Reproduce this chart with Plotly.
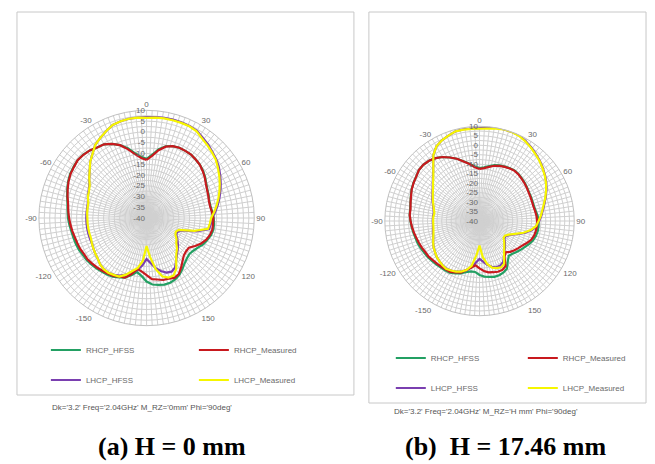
import plotly.graph_objects as go

# The page body has an 8 px margin, so the figure is drawn 8 px in from the window corner.
OFF = 8
W, H = 655 - OFF, 464 - OFF

# angles (deg, clockwise from top), 0..355 step 5
THETA = list(range(0, 360, 5))

# ---------- (a) H = 0 mm ----------
A_RHCP_HFSS = [-12.5, -10.5, -7.5, -5.5, -4.5, -4, -4, -4, -4.5, -5, -5.8, -6.8, -8, -8.8, -9.3, -9.8,
               -9.8, -9.3, -8.8, -8.5, -8.5, -9, -10, -11, -12.5, -13.5, -14, -13.5, -12.5, -11, -9.5, -8.5,
               -8, -8, -8.5, -9, -10.5, -13, -14.5, -12.5, -10.5, -9.5, -8.5, -8, -7.5, -7, -6.5, -6,
               -5.8, -5.3, -5, -4.8, -4.5, -4, -3.5, -3.2, -2.7, -1.8, -0.8, 0.2, 1, 1.4, 1.8, 1.6,
               1, 0, -0.5, -2, -4, -6.5, -9.5, -11.5]
A_RHCP_MEAS = [-13, -11, -8, -5.7, -4.5, -4, -4, -4, -4.5, -5, -6, -7, -8.2, -9, -9.5, -10,
               -10, -9.5, -9, -9, -9, -9.5, -10.5, -12, -14, -16, -16, -15.5, -14, -12, -10, -9.3,
               -10, -10.2, -11, -11.5, -13.5, -15, -16, -13, -10.5, -10, -9, -8.5, -8, -7.5, -7, -6.5,
               -6.5, -6, -5.8, -5.5, -5, -4.5, -4, -3.5, -3, -2, -1, 0, 0.8, 1.2, 1.8, 1.5,
               1, 0, -0.5, -2, -4, -7, -10, -12]
A_LHCP_HFSS = [6.8, 7, 7.2, 7.3, 7.3, 7.2, 6.8, 5.5, 4.5, 3.3, 2.3, 1, -0.5, -2, -3.5, -5,
               -6.5, -8, -9.5, -10, -10.5, -16, -23, -24.5, -24, -22.5, -21, -19.5, -18, -16, -13.5, -12.5,
               -13, -14.5, -16.5, -19, -21, -18, -15.5, -14, -12, -10.5, -9.5, -9, -9, -9.5, -10.5, -11,
               -11.5, -12, -12, -12, -12, -12, -12, -12, -12, -11.8, -11, -10.3, -9.3, -7.5, -5.5, -3,
               -1, 1.5, 3, 4.5, 6, 6.5, 6.8, 6.8]
A_LHCP_MEAS = [6.5, 6.8, 7, 7, 7, 7, 6.5, 5, 4, 3, 2, 0.5, -1, -2.5, -4, -5.5,
               -7, -8.5, -10, -10.5, -11, -17, -24, -25, -24.5, -23, -22, -20, -18.5, -16, -12.5, -10.5,
               -10.5, -12, -16, -22, -27, -20, -16.5, -14.5, -12, -10, -9.5, -9, -9, -9.5, -10.5, -11,
               -11.5, -12, -12.5, -12.5, -12.5, -12.5, -12.5, -12.3, -12.2, -12, -11, -10.5, -9.5, -7.5, -5.5, -3,
               -1, 1.5, 3, 4.5, 6, 6.5, 6.8, 6.8]

# ---------- (b) H = 17.46 mm ----------
B_RHCP_HFSS = [-12, -11.5, -10.5, -9.5, -8.8, -8.3, -7.8, -7.5, -7.8, -8.3, -8.8, -9.3, -9.8, -10, -10.2, -10.2,
               -9.8, -9.2, -8.8, -8.7, -8.8, -9.2, -10, -11.2, -12.5, -13.5, -14.5, -15.5, -16, -14, -11, -10,
               -9.5, -9.5, -10, -10.5, -11.5, -13, -13, -12, -10.5, -9.5, -8.5, -8.2, -8, -7.6, -7.2, -6.7,
               -6.3, -5.8, -5.3, -5, -4.5, -4, -3.5, -3, -2.8, -2.2, -1.4, -0.4, 0.3, 0.9, 1.8, 2,
               1.5, 0.5, -1, -3, -5, -7.3, -9.3, -11]
B_RHCP_MEAS = [-12.5, -12, -11, -9.8, -9, -8.5, -8, -7.7, -8, -8.5, -9, -9.5, -10, -10.3, -10.5, -10.5,
               -10.2, -9.8, -9.6, -9.6, -9.8, -10.2, -11, -12.5, -14, -15, -16, -17, -18.5, -17, -12.5, -11.5,
               -11.5, -12, -12.5, -13.5, -15, -16.5, -15, -13.2, -11, -10, -9, -8.8, -8.5, -8.2, -7.8, -7.2,
               -7, -6.5, -6, -5.5, -4.8, -4.2, -3.6, -3, -3, -2.3, -1.5, -0.5, 0.2, 0.8, 1.8, 2,
               1.5, 0.5, -1, -3, -5, -7.5, -9.5, -11.5]
B_LHCP_HFSS = [9, 9.5, 10, 10, 10, 9.8, 8.7, 7.5, 6.2, 5, 3.6, 2.2, 0.7, -1, -2.8, -4.5,
               -6, -7.2, -8.5, -9.7, -12, -15.5, -19.5, -22.5, -24, -24, -22.5, -21, -19.5, -17.5, -15, -14,
               -14, -15, -16.5, -18.5, -20, -18, -15, -13, -11.5, -10.5, -9.8, -9.3, -9.5, -10, -10.5, -11.3,
               -12, -13, -14, -14.5, -15, -15.3, -15.3, -15.3, -15.5, -14.8, -13.8, -12.5, -11.3, -9.8, -7.8, -5.3,
               -2, 2.5, 5.5, 7, 8, 9, 9.2, 9]
B_LHCP_MEAS = [8.7, 9, 9.5, 10, 10, 9.5, 8.5, 7.3, 6, 4.8, 3.4, 2, 0.5, -1.2, -3, -4.8,
               -6.3, -7.5, -8.8, -10, -12.5, -16, -20, -23, -24.5, -24.5, -23, -21.5, -19.8, -17.5, -14, -13,
               -13.5, -14.5, -17, -21, -27, -22, -16, -13.2, -11.5, -10.5, -9.8, -9.2, -9.5, -10, -10.5, -11.3,
               -12, -13, -14, -14.8, -15.3, -15.5, -15.5, -15.5, -15.8, -15, -14, -12.8, -11.5, -10, -8, -5.5,
               -2, 2.5, 5.5, 7, 8, 9, 9, 8.8]

SERIES_NAMES = ["RHCP_HFSS", "RHCP_Measured", "LHCP_HFSS", "LHCP_Measured"]
COLORS = {"RHCP_HFSS": "#23a063", "RHCP_Measured": "#c8191e",
          "LHCP_HFSS": "#7a3fb0", "LHCP_Measured": "#f6f600"}

ANG_LABELS = {0: "0", 30: "30", 60: "60", 90: "90", 120: "120", 150: "150",
              210: "-150", 240: "-120", 270: "-90", 300: "-60", 330: "-30"}
R_MIN, R_MAX = -40, 10

SUBTITLE_A = "Dk='3.2' Freq='2.04GHz' M_RZ='0mm' Phi='90deg'"
SUBTITLE_B = "Dk='3.2' Freq='2.04GHz' M_RZ='H mm' Phi='90deg'"
CAPTION_A = "(a) H = 0 mm"
CAPTION_B = "(b)  H = 17.46 mm"


def px(x):
    return (x - OFF) / W


def py(y):
    return 1 - (y - OFF) / H


def closed(v):
    return list(v) + [v[0]]


theta_c = THETA + [360]

fig = go.Figure()

panels = [
    ("polar", {"RHCP_HFSS": A_RHCP_HFSS, "RHCP_Measured": A_RHCP_MEAS,
               "LHCP_HFSS": A_LHCP_HFSS, "LHCP_Measured": A_LHCP_MEAS}, "legend", "legend2"),
    ("polar2", {"RHCP_HFSS": B_RHCP_HFSS, "RHCP_Measured": B_RHCP_MEAS,
                "LHCP_HFSS": B_LHCP_HFSS, "LHCP_Measured": B_LHCP_MEAS}, "legend3", "legend4"),
]

draw_order = ["RHCP_HFSS", "LHCP_HFSS", "RHCP_Measured", "LHCP_Measured"]
for sub, data, lg1, lg2 in panels:
    for name in draw_order:
        lg = lg1 if name.startswith("RHCP") else lg2
        rank = SERIES_NAMES.index(name)
        fig.add_trace(go.Scatterpolar(
            r=closed(data[name]), theta=theta_c, mode="lines", name=name,
            line=dict(color=COLORS[name], width=2.2),
            subplot=sub, legend=lg, legendrank=rank))

ang_vals = list(range(0, 360, 3))
ang_text = [ANG_LABELS.get(v, "") for v in ang_vals]
r_vals = [R_MIN + 2.5 * i for i in range(int((R_MAX - R_MIN) / 2.5) + 1)]
r_text = [str(int(v)) if v % 5 == 0 else "" for v in r_vals]

grid = "#d0d0d0"
tickfont = dict(family="Liberation Sans", size=8, color="#6a6a6a")


def polar_layout(cx, cy, R):
    return dict(
        domain=dict(x=[px(cx - R), px(cx + R)], y=[py(cy + R), py(cy - R)]),
        bgcolor="white",
        angularaxis=dict(rotation=90, direction="clockwise", tickmode="array",
                         tickvals=ang_vals, ticktext=ang_text, ticks="",
                         showgrid=True, gridcolor=grid, gridwidth=0.7,
                         showline=True, linecolor="#c0c0c0", linewidth=1,
                         tickfont=tickfont),
        radialaxis=dict(range=[R_MIN, R_MAX], angle=90, tickangle=90, side="counterclockwise",
                        tickmode="array", tickvals=r_vals, ticktext=r_text, ticks="",
                        showline=False, showgrid=True, gridcolor=grid, gridwidth=0.7,
                        tickfont=tickfont),
    )


legend_common = dict(orientation="h", bgcolor="rgba(0,0,0,0)", borderwidth=0,
                     font=dict(family="Liberation Sans", size=8, color="#6a6a6a"),
                     itemwidth=30, yanchor="middle", xanchor="left", traceorder="normal")


def ann(text, x, y, size, family, color):
    return dict(text=text, x=px(x), y=py(y), xref="paper", yref="paper", showarrow=False,
                xanchor="center", yanchor="middle", font=dict(family=family, size=size, color=color))


def box(x0, y0, x1, y1):
    return dict(type="rect", xref="paper", yref="paper", x0=px(x0), x1=px(x1), y0=py(y1), y1=py(y0),
                line=dict(color="#c8c8c8", width=1))


fig.update_layout(
    width=W, height=H, margin=dict(l=0, r=0, t=0, b=0),
    paper_bgcolor="white", plot_bgcolor="white",
    polar=polar_layout(147, 218, 108),
    polar2=polar_layout(481, 221, 95),
    legend=dict(legend_common, x=px(46), y=py(350), entrywidth=103),
    legend2=dict(legend_common, x=px(46), y=py(380), entrywidth=103),
    legend3=dict(legend_common, x=px(392), y=py(358), entrywidth=87),
    legend4=dict(legend_common, x=px(392), y=py(388), entrywidth=87),
    shapes=[box(17, 12, 355, 395), box(370, 12, 648, 403)],
    annotations=[
        ann(SUBTITLE_A, 142, 407, 8, "Liberation Sans", "#555555"),
        ann(SUBTITLE_B, 487, 411, 8, "Liberation Sans", "#555555"),
        ann("<b>" + CAPTION_A + "</b>", 173, 446, 26, "Liberation Serif", "black"),
        ann("<b>" + CAPTION_B.replace("  ", "&nbsp; ") + "</b>", 507, 446, 26, "Liberation Serif", "black"),
    ],
)

fig.write_html("out.html")
